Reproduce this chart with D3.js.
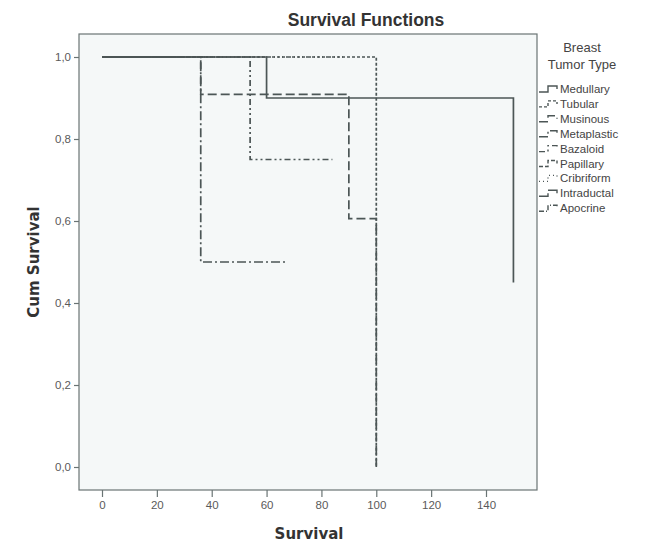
<!DOCTYPE html>
<html>
<head>
<meta charset="utf-8">
<script src="https://cdn.jsdelivr.net/npm/d3@7"></script>
<style>
  body { margin: 0; background: #fff; }
  text { font-family: "Liberation Sans", Arial, sans-serif; }
</style>
</head>
<body>
<script>
// Survival Functions - Kaplan-Meier steps per tumor type

// ---- data ----
const categories = ["Medullary", "Tubular", "Musinous", "Metaplastic", "Bazaloid",
                    "Papillary", "Cribriform", "Intraductal", "Apocrine"];
// step start times and survival level from that time on
const stepTimes = [
  [0, 60, 150],
  [0, 100],
  [0, 36, 90, 100],
  [0, 36],
  [0, 54],
  [0],
  [0],
  [0],
  [0]
];
const stepSurv = [
  [1, 0.9, 0.45],
  [1, 0],
  [1, 0.909, 0.606, 0],
  [1, 0.5],
  [1, 0.75],
  [1],
  [1],
  [1],
  [1]
];
const endTimes = [150, 100, 100, 67, 84, 40, 88, 30, 20];
const xTicks = [0, 20, 40, 60, 80, 100, 120, 140];
const yTicks = [0, 0.2, 0.4, 0.6, 0.8, 1.0];

// ---- chart ----
const W = 670, H = 553;
const frame = { left: 79, top: 34, right: 537, bottom: 490 };

const svg = d3.select("body").append("svg")
  .attr("width", W)
  .attr("height", H);

const x = d3.scaleLinear().domain([0, 140]).range([102, 486]);
const y = d3.scaleLinear().domain([0, 1]).range([467, 57]);

const lineColor = "#4c5656";
const dashes = ["none", "3,2", "9,4", "9,3,2,3", "6,3,2,3,2,3", "4,2", "1,3", "12,3", "5,2,1,2"];

// plot background + frame
svg.append("rect")
  .attr("x", frame.left).attr("y", frame.top)
  .attr("width", frame.right - frame.left)
  .attr("height", frame.bottom - frame.top)
  .attr("fill", "#f5f8f8")
  .attr("stroke", "#6a7474")
  .attr("stroke-width", 1.2);

// step paths
function stepPoints(i) {
  const t = stepTimes[i], s = stepSurv[i], pts = [];
  t.forEach((ti, k) => {
    if (k > 0) pts.push([ti, s[k - 1]]);
    pts.push([ti, s[k]]);
  });
  const last = s[s.length - 1];
  if (endTimes[i] > t[t.length - 1]) pts.push([endTimes[i], last]);
  return pts;
}

const line = d3.line().x(d => x(d[0])).y(d => y(d[1]));

svg.append("g")
  .selectAll("path")
  .data(categories)
  .join("path")
  .attr("d", (d, i) => line(stepPoints(i)))
  .attr("fill", "none")
  .attr("stroke", lineColor)
  .attr("stroke-width", 1.7)
  .attr("stroke-dasharray", (d, i) => dashes[i]);

// axes
const fmt = v => d3.format(".1f")(v).replace(".", ",");

const xAxis = svg.append("g")
  .attr("transform", `translate(0,${frame.bottom})`)
  .call(d3.axisBottom(x).tickValues(xTicks).tickSize(7).tickPadding(4));
const yAxis = svg.append("g")
  .attr("transform", `translate(${frame.left},0)`)
  .call(d3.axisLeft(y).tickValues(yTicks).tickFormat(fmt).tickSize(5).tickPadding(3));

[xAxis, yAxis].forEach(a => {
  a.select(".domain").remove();
  a.selectAll("line").attr("stroke", "#6a7474").attr("stroke-width", 1.2);
  a.selectAll("text")
    .attr("fill", "#5a5a5a")
    .attr("font-size", "11.5px")
    .style("font-family", "Liberation Sans, Arial, sans-serif");
});

// titles
svg.append("text")
  .attr("x", 366).attr("y", 26)
  .attr("text-anchor", "middle")
  .attr("font-size", "17.5px")
  .attr("font-weight", "bold")
  .attr("fill", "#333")
  .text("Survival Functions");

svg.append("text")
  .attr("x", 309).attr("y", 539)
  .attr("text-anchor", "middle")
  .attr("font-size", "15px")
  .attr("font-weight", "bold")
  .attr("fill", "#333")
  .style("font-family", "DejaVu Sans, sans-serif")
  .text("Survival");

svg.append("text")
  .attr("transform", "translate(39,262) rotate(-90)")
  .attr("text-anchor", "middle")
  .attr("font-size", "15px")
  .attr("font-weight", "bold")
  .attr("fill", "#333")
  .style("font-family", "DejaVu Sans, sans-serif")
  .text("Cum Survival");

// legend
const legend = svg.append("g");
legend.append("text")
  .attr("x", 582).attr("y", 52)
  .attr("text-anchor", "middle")
  .attr("font-size", "13px")
  .attr("fill", "#444")
  .text("Breast");
legend.append("text")
  .attr("x", 582).attr("y", 69)
  .attr("text-anchor", "middle")
  .attr("font-size", "13px")
  .attr("fill", "#444")
  .text("Tumor Type");

const item = legend.selectAll("g.item")
  .data(categories)
  .join("g")
  .attr("class", "item")
  .attr("transform", (d, i) => `translate(539,${89 + i * 14.9})`);

item.append("path")
  .attr("d", "M0,3H9V-3H18V0")
  .attr("fill", "none")
  .attr("stroke", lineColor)
  .attr("stroke-width", 1.4)
  .attr("stroke-dasharray", (d, i) => dashes[i] === "none" ? null : dashes[i]);

item.append("text")
  .attr("x", 21).attr("y", 4)
  .attr("font-size", "11.5px")
  .attr("fill", "#444")
  .text(d => d);
</script>
</body>
</html>
